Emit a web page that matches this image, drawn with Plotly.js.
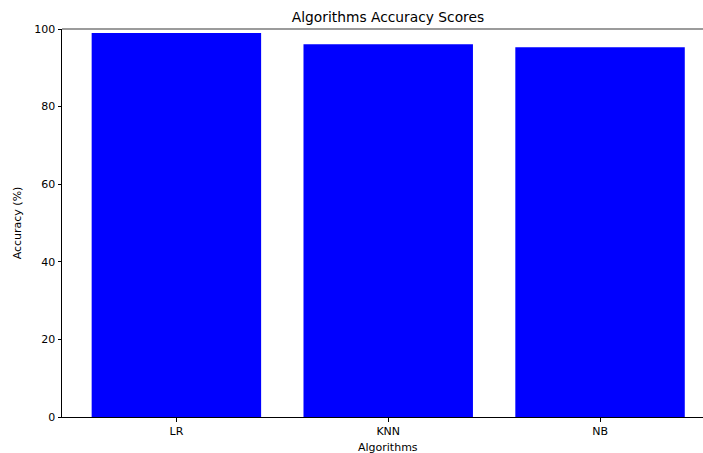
<!DOCTYPE html>
<html>
<head>
<meta charset="utf-8">
<script src="https://cdn.plot.ly/plotly-3.0.1.min.js"></script>
<style>html,body{margin:0;padding:0;background:#fff;}#chart{width:703px;height:453px;}</style>
</head>
<body>
<div id="chart"></div>
<script>
const categories = ["LR", "KNN", "NB"];
const accuracy = [99.0, 96.1, 95.3];
const yTicks = [0, 20, 40, 60, 80, 100];
const xLabel = "Algorithms";

const font = "DejaVu Sans, sans-serif";
const trace = {
  type: "bar",
  x: [0, 1, 2],
  y: accuracy,
  width: 0.8,
  marker: {color: "#0000ff", line: {width: 0}},
  hoverinfo: "x+y"
};
const layout = {
  width: 703, height: 453,
  margin: {l: 62, r: 0, t: 29, b: 36, pad: 0},
  paper_bgcolor: "#ffffff", plot_bgcolor: "#ffffff",
  showlegend: false,
  font: {family: font, size: 11, color: "#000"},
  title: {text: "Algorithms Accuracy Scores", font: {family: font, size: 13.8, color: "#000"},
          xref: "container", x: 388/703, xanchor: "center", yref: "container", y: 1 - 17/453, yanchor: "middle"},
  xaxis: {
    range: [-0.54, 2.486], tickvals: [0, 1, 2], ticktext: categories,
    ticks: "outside", ticklen: 3.5, tickwidth: 1, tickcolor: "#000",
    showgrid: false, zeroline: false, showline: true, linecolor: "#000", linewidth: 1,
    tickfont: {family: font, size: 11, color: "#000"}
  },
  yaxis: {
    range: [0, 100], tickvals: yTicks,
    ticks: "outside", ticklen: 3.5, tickwidth: 1, tickcolor: "#000",
    showgrid: false, zeroline: false, showline: true, linecolor: "#000", linewidth: 1,
    tickfont: {family: font, size: 11, color: "#000"},
    title: {text: "Accuracy (%)", font: {family: font, size: 11, color: "#000"}, standoff: 10}
  },
  shapes: [{
    type: "line", xref: "paper", yref: "paper", x0: 0, x1: 1, y0: 1, y1: 1,
    line: {color: "#7a7a7a", width: 1.6}
  }],
  annotations: [{
    text: xLabel, showarrow: false, xref: "paper", yref: "paper",
    x: (388 - 62) / 641, y: -(447 - 417) / 388, xanchor: "center", yanchor: "middle",
    font: {family: font, size: 11, color: "#000"}
  }],
  bargap: 0.2
};
Plotly.newPlot("chart", [trace], layout, {displayModeBar: false, staticPlot: true});
</script>
</body>
</html>
